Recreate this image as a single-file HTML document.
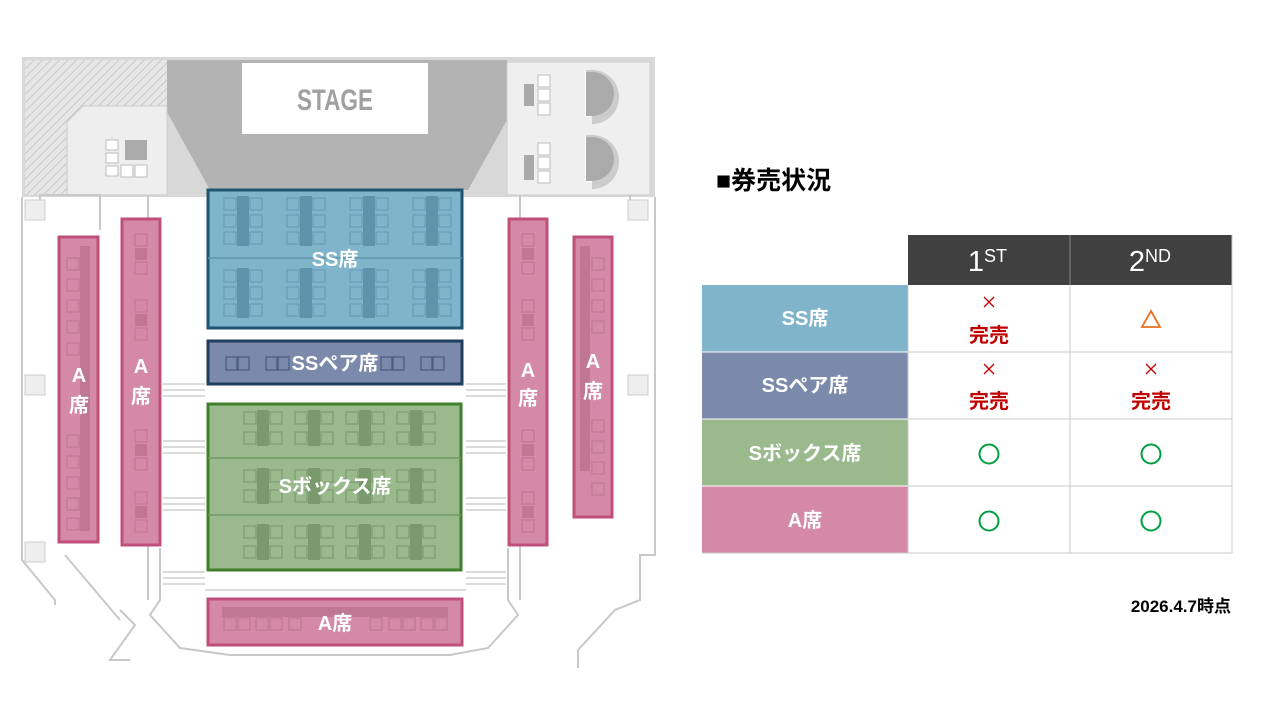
<!DOCTYPE html>
<html><head><meta charset="utf-8"><style>
body{margin:0;background:#fff;width:1280px;height:720px;overflow:hidden;position:relative;font-family:"Liberation Sans","Noto Sans CJK JP",sans-serif}
svg{position:absolute;left:0;top:0}
</style></head><body>
<svg width="1280" height="720" viewBox="0 0 1280 720" font-family="Liberation Sans, Noto Sans CJK JP, sans-serif">
<defs><pattern id="h" width="6" height="6" patternUnits="userSpaceOnUse" patternTransform="rotate(45)"><rect width="6" height="6" fill="#e6e6e6"/><line x1="0" y1="0" x2="0" y2="6" stroke="#c8c8c8" stroke-width="2"/></pattern>
<g id="ssq"><rect x="-19" y="0" width="12" height="12" fill="none" stroke="#6a9fb8" stroke-width="1.3"/><rect x="7" y="0" width="12" height="12" fill="none" stroke="#6a9fb8" stroke-width="1.3"/></g>
<g id="ssc"><rect x="-6" y="0" width="12" height="50" fill="#5f93ab"/><use href="#ssq" y="2"/><use href="#ssq" y="19"/><use href="#ssq" y="36"/></g>
<g id="gsq"><rect x="-19" y="0" width="12" height="12" fill="none" stroke="#7f9f73" stroke-width="1.3"/><rect x="7" y="0" width="12" height="12" fill="none" stroke="#7f9f73" stroke-width="1.3"/></g>
<g id="gsc"><rect x="-6" y="0" width="12" height="36" fill="#789a6c"/><use href="#gsq" y="2"/><use href="#gsq" y="22"/></g>
<g id="psq"><rect x="0" y="0" width="12" height="12" fill="none" stroke="#c07a95" stroke-width="1.3"/></g>
</defs>
<rect x="22" y="57" width="633" height="140" fill="#d8d8d8"/>
<rect x="25" y="60" width="142" height="135" fill="url(#h)"/>
<polygon points="167,60 507,60 507,120 468,190 210,190 167,112" fill="#b3b3b3"/>
<rect x="242" y="63" width="186" height="71" fill="#fff"/>
<text x="297" y="110" font-size="30" font-weight="bold" fill="#a0a0a0" textLength="76" lengthAdjust="spacingAndGlyphs">STAGE</text>
<polygon points="67,122 83,106 167,106 167,195 67,195" fill="#eeeeee" stroke="#ccc"/>
<rect x="106" y="140" width="12" height="10" fill="#fff" stroke="#bbb"/><rect x="106" y="153" width="12" height="10" fill="#fff" stroke="#bbb"/><rect x="106" y="166" width="12" height="10" fill="#fff" stroke="#bbb"/>
<rect x="125" y="140" width="22" height="20" fill="#aaa"/>
<rect x="121" y="165" width="12" height="12" fill="#fff" stroke="#bbb"/><rect x="135" y="165" width="12" height="12" fill="#fff" stroke="#bbb"/>
<polygon points="507,62 650,62 650,195 507,195" fill="#efefef" stroke="#ccc"/>
<rect x="524" y="84" width="10" height="22" fill="#aaa"/><rect x="524" y="155" width="10" height="25" fill="#aaa"/>
<rect x="538" y="75" width="12" height="12" fill="#fff" stroke="#bbb"/><rect x="538" y="89" width="12" height="12" fill="#fff" stroke="#bbb"/><rect x="538" y="103" width="12" height="12" fill="#fff" stroke="#bbb"/>
<rect x="538" y="143" width="12" height="12" fill="#fff" stroke="#bbb"/><rect x="538" y="157" width="12" height="12" fill="#fff" stroke="#bbb"/><rect x="538" y="171" width="12" height="12" fill="#fff" stroke="#bbb"/>
<path d="M586,72 h6 a22,22 0 0 1 0,44 h-6z" fill="#aaa" stroke="#fff" stroke-width="2"/><path d="M586,75 h6 a22,22 0 0 1 0,44" fill="none" stroke="#ccc" stroke-width="10"/>
<path d="M586,137 h6 a22,22 0 0 1 0,44 h-6z" fill="#aaa" stroke="#fff" stroke-width="2"/><path d="M586,140 h6 a22,22 0 0 1 0,44" fill="none" stroke="#ccc" stroke-width="10"/>
<path d="M586,72 h6 a22,22 0 0 1 0,44 h-6z" fill="#aaa"/><path d="M586,137 h6 a22,22 0 0 1 0,44 h-6z" fill="#aaa"/>
<g fill="none" stroke="#c8c8c8" stroke-width="2">
<polyline points="22,197 22,560 55,600 55,605"/>
<polyline points="655,197 655,555 640,555 640,600 615,610 578,650 578,668"/>
<polyline points="120,610 135,625 110,660 130,660"/>
<polyline points="160,548 160,600 150,615 180,648 230,655 450,655 488,648 518,615 508,600 508,548"/>
<line x1="148" y1="195" x2="148" y2="600"/><line x1="520" y1="195" x2="520" y2="600"/>
<polyline points="40,220 40,195 100,195 100,230"/>
<polyline points="630,195 630,220"/>
<line x1="65" y1="555" x2="120" y2="620"/>
</g>
<rect x="25" y="200" width="20" height="20" fill="#eee" stroke="#ccc"/><rect x="25" y="375" width="20" height="20" fill="#eee" stroke="#ccc"/><rect x="25" y="542" width="20" height="20" fill="#eee" stroke="#ccc"/>
<rect x="628" y="200" width="20" height="20" fill="#eee" stroke="#ccc"/><rect x="628" y="375" width="20" height="20" fill="#eee" stroke="#ccc"/>
<g stroke="#cfcfcf" stroke-width="1.5">
<line x1="163" y1="384" x2="205" y2="384"/><line x1="163" y1="390" x2="205" y2="390"/><line x1="163" y1="396" x2="205" y2="396"/>
<line x1="163" y1="441" x2="205" y2="441"/><line x1="163" y1="447" x2="205" y2="447"/><line x1="163" y1="453" x2="205" y2="453"/>
<line x1="163" y1="498" x2="205" y2="498"/><line x1="163" y1="504" x2="205" y2="504"/><line x1="163" y1="510" x2="205" y2="510"/>
<line x1="163" y1="572" x2="205" y2="572"/><line x1="163" y1="578" x2="205" y2="578"/><line x1="163" y1="584" x2="205" y2="584"/>
<line x1="466" y1="384" x2="506" y2="384"/><line x1="466" y1="390" x2="506" y2="390"/><line x1="466" y1="396" x2="506" y2="396"/>
<line x1="466" y1="441" x2="506" y2="441"/><line x1="466" y1="447" x2="506" y2="447"/><line x1="466" y1="453" x2="506" y2="453"/>
<line x1="466" y1="498" x2="506" y2="498"/><line x1="466" y1="504" x2="506" y2="504"/><line x1="466" y1="510" x2="506" y2="510"/>
<line x1="466" y1="572" x2="506" y2="572"/><line x1="466" y1="578" x2="506" y2="578"/><line x1="466" y1="584" x2="506" y2="584"/>
<line x1="205" y1="590" x2="466" y2="590"/>
</g>
<!-- SS -->
<rect x="208" y="190" width="254" height="138" fill="#80b4cb" stroke="#1f5570" stroke-width="3"/>
<line x1="208" y1="258" x2="462" y2="258" stroke="#5f93ab" stroke-width="1.5"/>
<use href="#ssc" x="243" y="196"/><use href="#ssc" x="306" y="196"/><use href="#ssc" x="369" y="196"/><use href="#ssc" x="432" y="196"/>
<use href="#ssc" x="243" y="268"/><use href="#ssc" x="306" y="268"/><use href="#ssc" x="369" y="268"/><use href="#ssc" x="432" y="268"/>
<text x="335" y="266" font-size="20" font-weight="bold" fill="#fff" text-anchor="middle">SS席</text>
<!-- SS pair -->
<rect x="208" y="341" width="254" height="43" fill="#7b8aab" stroke="#1f3d5f" stroke-width="3"/>
<g fill="none" stroke="#4c5e80" stroke-width="1.3">
<rect x="226" y="357" width="11" height="13"/><rect x="238" y="357" width="11" height="13"/>
<rect x="266" y="357" width="11" height="13"/><rect x="278" y="357" width="11" height="13"/>
<rect x="381" y="357" width="11" height="13"/><rect x="393" y="357" width="11" height="13"/>
<rect x="421" y="357" width="11" height="13"/><rect x="433" y="357" width="11" height="13"/>
</g>
<text x="335" y="370" font-size="20" font-weight="bold" fill="#fff" text-anchor="middle">SSペア席</text>
<!-- S box -->
<rect x="208" y="404" width="253" height="166" fill="#9aba8e" stroke="#3f7f2a" stroke-width="3"/>
<line x1="208" y1="458" x2="461" y2="458" stroke="#6f9a62" stroke-width="1.5"/><line x1="208" y1="515" x2="461" y2="515" stroke="#6f9a62" stroke-width="1.5"/>
<use href="#gsc" x="263" y="410"/><use href="#gsc" x="314" y="410"/><use href="#gsc" x="365" y="410"/><use href="#gsc" x="416" y="410"/>
<use href="#gsc" x="263" y="468"/><use href="#gsc" x="314" y="468"/><use href="#gsc" x="365" y="468"/><use href="#gsc" x="416" y="468"/>
<use href="#gsc" x="263" y="524"/><use href="#gsc" x="314" y="524"/><use href="#gsc" x="365" y="524"/><use href="#gsc" x="416" y="524"/>
<text x="335" y="493" font-size="20" font-weight="bold" fill="#fff" text-anchor="middle">Sボックス席</text>
<!-- bottom A -->
<rect x="208" y="599" width="254" height="46" fill="#d48aa6" stroke="#c0507a" stroke-width="3"/>
<rect x="222" y="607" width="226" height="10" fill="#bf7792"/>
<g><use href="#psq" x="224" y="618"/><use href="#psq" x="238" y="618"/><use href="#psq" x="256" y="618"/><use href="#psq" x="270" y="618"/><use href="#psq" x="289" y="618"/><use href="#psq" x="370" y="618"/><use href="#psq" x="389" y="618"/><use href="#psq" x="403" y="618"/><use href="#psq" x="421" y="618"/><use href="#psq" x="435" y="618"/></g>
<text x="335" y="630" font-size="20" font-weight="bold" fill="#fff" text-anchor="middle">A席</text>
<!-- side A -->
<g fill="#d48aa6" stroke="#c0507a" stroke-width="3">
<rect x="59" y="237" width="39" height="305"/><rect x="122" y="219" width="38" height="326"/>
<rect x="509" y="219" width="38" height="326"/><rect x="574" y="237" width="38" height="280"/>
</g>
<rect x="80" y="246" width="10" height="285" fill="#bf7792"/><rect x="580" y="246" width="10" height="225" fill="#bf7792"/>
<g>
<use href="#psq" x="67" y="258"/><use href="#psq" x="67" y="279"/><use href="#psq" x="67" y="300"/><use href="#psq" x="67" y="321"/><use href="#psq" x="67" y="343"/>
<use href="#psq" x="67" y="435"/><use href="#psq" x="67" y="456"/><use href="#psq" x="67" y="477"/><use href="#psq" x="67" y="498"/><use href="#psq" x="67" y="518"/>
<use href="#psq" x="592" y="258"/><use href="#psq" x="592" y="279"/><use href="#psq" x="592" y="300"/><use href="#psq" x="592" y="321"/>
<use href="#psq" x="592" y="420"/><use href="#psq" x="592" y="441"/><use href="#psq" x="592" y="462"/><use href="#psq" x="592" y="483"/>
<use href="#psq" x="135" y="234"/><use href="#psq" x="135" y="262"/><use href="#psq" x="135" y="300"/><use href="#psq" x="135" y="328"/>
<use href="#psq" x="135" y="430"/><use href="#psq" x="135" y="458"/><use href="#psq" x="135" y="492"/><use href="#psq" x="135" y="520"/>
<use href="#psq" x="522" y="234"/><use href="#psq" x="522" y="262"/><use href="#psq" x="522" y="300"/><use href="#psq" x="522" y="328"/>
<use href="#psq" x="522" y="430"/><use href="#psq" x="522" y="458"/><use href="#psq" x="522" y="492"/><use href="#psq" x="522" y="520"/>
</g>
<g fill="#bf7792"><rect x="135" y="248" width="12" height="12"/><rect x="135" y="314" width="12" height="12"/><rect x="135" y="444" width="12" height="12"/><rect x="135" y="506" width="12" height="12"/>
<rect x="522" y="248" width="12" height="12"/><rect x="522" y="314" width="12" height="12"/><rect x="522" y="444" width="12" height="12"/><rect x="522" y="506" width="12" height="12"/></g>
<g font-size="20" font-weight="bold" fill="#fff" text-anchor="middle">
<text x="79" y="382">A</text><text x="79" y="412">席</text>
<text x="141" y="373">A</text><text x="141" y="403">席</text>
<text x="528" y="377">A</text><text x="528" y="405">席</text>
<text x="593" y="368">A</text><text x="593" y="398">席</text>
</g>
<!-- table -->
<rect x="908" y="235" width="324" height="50" fill="#404040"/>
<line x1="1070" y1="235" x2="1070" y2="285" stroke="#888"/>
<rect x="702" y="285" width="206" height="67" fill="#80b4cb"/>
<rect x="702" y="352" width="206" height="67" fill="#7b8aab"/>
<rect x="702" y="419" width="206" height="67" fill="#9aba8e"/>
<rect x="702" y="486" width="206" height="67" fill="#d48aa6"/>
<g stroke="#c8c8c8" stroke-width="1">
<line x1="908" y1="352" x2="1232" y2="352"/><line x1="908" y1="419" x2="1232" y2="419"/><line x1="908" y1="486" x2="1232" y2="486"/><line x1="702" y1="553" x2="1232" y2="553"/>
<line x1="908" y1="285" x2="908" y2="553"/><line x1="1070" y1="285" x2="1070" y2="553"/><line x1="1232" y1="235" x2="1232" y2="553"/>
</g>
<g stroke="#fff"><line x1="702" y1="352" x2="908" y2="352"/><line x1="702" y1="419" x2="908" y2="419"/><line x1="702" y1="486" x2="908" y2="486"/></g>
<g font-size="20" font-weight="bold" fill="#fff" text-anchor="middle">
<text x="805" y="325">SS席</text><text x="805" y="392">SSペア席</text><text x="805" y="460">Sボックス席</text><text x="805" y="527">A席</text>
</g>
<text x="984" y="271" font-size="29" fill="#fff" text-anchor="end">1</text><text x="984" y="262" font-size="18" fill="#fff">ST</text>
<text x="1145" y="271" font-size="29" fill="#fff" text-anchor="end">2</text><text x="1145" y="262" font-size="18" fill="#fff">ND</text>
<g fill="#c00000" font-weight="bold" font-size="20" text-anchor="middle">
<text x="989" y="342">完売</text><text x="989" y="408">完売</text><text x="1151" y="408">完売</text>
</g>
<g stroke="#c00000" stroke-width="1.3">
<path d="M984,297 l10,10 M994,297 l-10,10"/><path d="M984,364 l10,10 M994,364 l-10,10"/><path d="M1146,364 l10,10 M1156,364 l-10,10"/>
</g>
<polygon points="1151,311 1142,327 1160,327" fill="none" stroke="#e87020" stroke-width="1.8"/>
<g fill="none" stroke="#00a040" stroke-width="2">
<circle cx="989" cy="454" r="9.5"/><circle cx="1151" cy="454" r="9.5"/><circle cx="989" cy="521" r="9.5"/><circle cx="1151" cy="521" r="9.5"/>
</g>
<text x="716" y="189" font-size="25" font-weight="bold" fill="#000">■券売状況</text>
<text x="1231" y="612" font-size="17" font-weight="bold" fill="#000" text-anchor="end">2026.4.7時点</text>
</svg>
</body></html>
